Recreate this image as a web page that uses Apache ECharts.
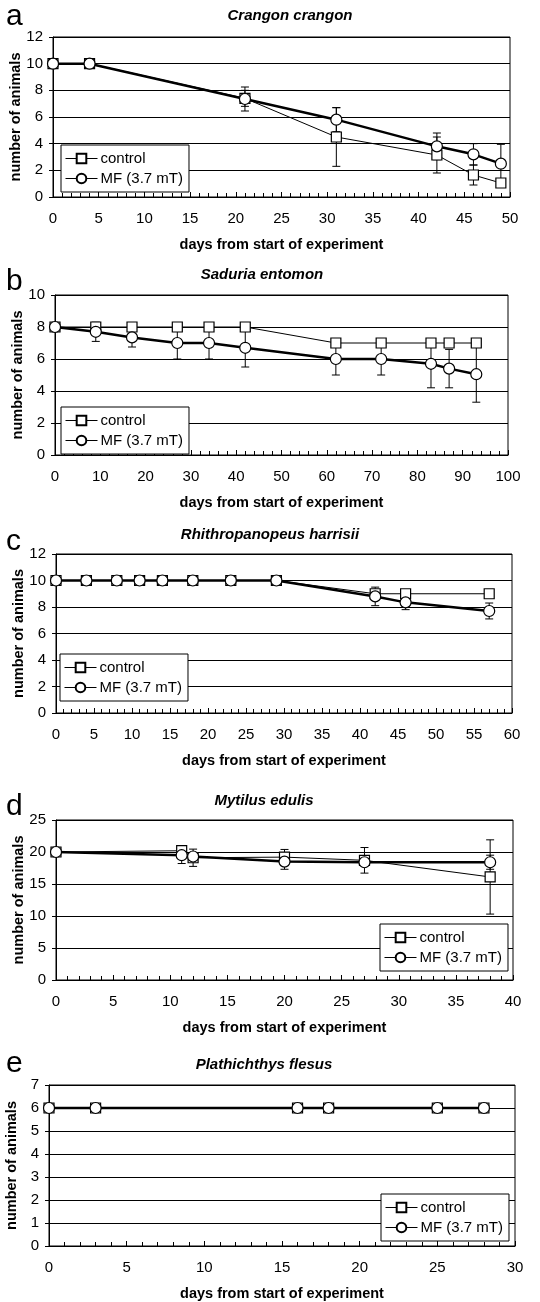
<!DOCTYPE html>
<html>
<head>
<meta charset="utf-8">
<script src="https://cdn.jsdelivr.net/npm/echarts@6/dist/echarts.min.js"></script>
<style>
  html, body { margin: 0; background: #fff; }
  #chart { width: 540px; height: 1302px; }
</style>
</head>
<body>
<div id="chart"></div>
<script>
// a - Crangon crangon
const crangonDays = [0, 4, 21, 31, 42, 46, 49]
const crangonControl = [10, 10, 7.4, 4.5, 3.15, 1.65, 1.05]
const crangonControlErr = [0, 0, 0.6, 2.2, 1.35, 0.75, 0]
const crangonMF = [10, 10, 7.35, 5.8, 3.8, 3.2, 2.5]
const crangonMFErr = [0, 0, 0.9, 0.9, 1.0, 0.8, 1.45]

// b - Saduria entomon
const saduriaDays = [0, 9, 17, 27, 34, 42, 62, 72, 83, 87, 93]
const saduriaControl = [8, 8, 8, 8, 8, 8, 7, 7, 7, 7, 7]
const saduriaControlErr = [0, 0, 0, 0, 0, 0, 0, 0, 0, 0, 0]
const saduriaMF = [8, 7.7, 7.35, 7.0, 7.0, 6.7, 6.0, 6.0, 5.7, 5.4, 5.05]
const saduriaMFErr = [0, 0.6, 0.6, 1.0, 1.0, 1.2, 1.0, 1.0, 1.5, 1.2, 1.75]

// c - Rhithropanopeus harrisii
const rhithroDays = [0, 4, 8, 11, 14, 18, 23, 29, 42, 46, 57]
const rhithroControl = [10, 10, 10, 10, 10, 10, 10, 10, 9, 9, 9]
const rhithroControlErr = [0, 0, 0, 0, 0, 0, 0, 0, 0, 0, 0]
const rhithroMF = [10, 10, 10, 10, 10, 10, 10, 10, 8.8, 8.35, 7.7]
const rhithroMFErr = [0, 0, 0, 0, 0, 0, 0, 0, 0.7, 0.55, 0.6]

// d - Mytilus edulis
const mytilusDays = [0, 11, 12, 20, 27, 38]
const mytilusControl = [20, 20.2, 19.1, 19.2, 18.7, 16.1]
const mytilusControlErr = [0, 0, 1.35, 1.2, 2.0, 5.8]
const mytilusMF = [20, 19.5, 19.3, 18.5, 18.4, 18.4]
const mytilusMFErr = [0, 1.3, 0, 1.2, 0, 1.1]

// e - Plathichthys flesus
const flesusDays = [0, 3, 16, 18, 25, 28]
const flesusControl = [6, 6, 6, 6, 6, 6]
const flesusControlErr = [0, 0, 0, 0, 0, 0]
const flesusMF = [6, 6, 6, 6, 6, 6]
const flesusMFErr = [0, 0, 0, 0, 0, 0]

const seriesNames = ['control', 'MF (3.7 mT)']
const xName = 'days from start of experiment'
const yName = 'number of animals'

const panels = [
  { letter: 'a', species: 'Crangon crangon', days: crangonDays,
    control: crangonControl, controlErr: crangonControlErr, mf: crangonMF, mfErr: crangonMFErr,
    xMax: 50, xStep: 5, yMax: 12, yStep: 2,
    grid: { left: 53, top: 37, width: 457, height: 160 },
    legend: { left: 61, top: 145 }, titleX: 290, titleY: 8, letterY: 2 },
  { letter: 'b', species: 'Saduria entomon', days: saduriaDays,
    control: saduriaControl, controlErr: saduriaControlErr, mf: saduriaMF, mfErr: saduriaMFErr,
    xMax: 100, xStep: 10, yMax: 10, yStep: 2,
    grid: { left: 55, top: 295, width: 453, height: 160 },
    legend: { left: 61, top: 407 }, titleX: 262, titleY: 267, letterY: 267 },
  { letter: 'c', species: 'Rhithropanopeus harrisii', days: rhithroDays,
    control: rhithroControl, controlErr: rhithroControlErr, mf: rhithroMF, mfErr: rhithroMFErr,
    xMax: 60, xStep: 5, yMax: 12, yStep: 2,
    grid: { left: 56, top: 554, width: 456, height: 159 },
    legend: { left: 60, top: 654 }, titleX: 270, titleY: 527, letterY: 527 },
  { letter: 'd', species: 'Mytilus edulis', days: mytilusDays,
    control: mytilusControl, controlErr: mytilusControlErr, mf: mytilusMF, mfErr: mytilusMFErr,
    xMax: 40, xStep: 5, yMax: 25, yStep: 5,
    grid: { left: 56, top: 820, width: 457, height: 160 },
    legend: { left: 380, top: 924 }, titleX: 264, titleY: 793, letterY: 792 },
  { letter: 'e', species: 'Plathichthys flesus', days: flesusDays,
    control: flesusControl, controlErr: flesusControlErr, mf: flesusMF, mfErr: flesusMFErr,
    xMax: 30, xStep: 5, yMax: 7, yStep: 1,
    grid: { left: 49, top: 1085, width: 466, height: 161 },
    legend: { left: 381, top: 1194 }, titleX: 264, titleY: 1057, letterY: 1049 }
]

const font = 'Liberation Sans, Arial, sans-serif'

function errorBars (idx, days, vals, errs) {
  return {
    type: 'custom',
    xAxisIndex: idx,
    yAxisIndex: idx,
    silent: true,
    z: 1,
    encode: { x: 0, y: [1, 2] },
    data: days.map((d, k) => [d, vals[k] - errs[k], vals[k] + errs[k]]).filter((r, k) => errs[k] > 0),
    renderItem: (params, api) => {
      const top = api.coord([api.value(0), api.value(2)])
      const bot = api.coord([api.value(0), api.value(1)])
      const w = 4
      const st = { stroke: '#000', lineWidth: 1 }
      return {
        type: 'group',
        children: [
          { type: 'line', shape: { x1: top[0], y1: top[1], x2: bot[0], y2: bot[1] }, style: st },
          { type: 'line', shape: { x1: top[0] - w, y1: top[1], x2: top[0] + w, y2: top[1] }, style: st },
          { type: 'line', shape: { x1: bot[0] - w, y1: bot[1], x2: bot[0] + w, y2: bot[1] }, style: st }
        ]
      }
    }
  }
}

const option = {
  animation: false,
  backgroundColor: '#fff',
  textStyle: { fontFamily: font },
  title: [], grid: [], xAxis: [], yAxis: [], legend: [], series: []
}

panels.forEach((p, i) => {
  option.title.push({
    text: p.species, left: p.titleX, top: p.titleY, textAlign: 'center', padding: 0,
    textStyle: { fontSize: 15, fontWeight: 'bold', fontStyle: 'italic', color: '#000', fontFamily: font }
  })
  option.title.push({
    text: p.letter, left: 6, top: p.letterY, padding: 0,
    textStyle: { fontSize: 30, fontWeight: 'normal', color: '#000', fontFamily: font }
  })
  option.grid.push(Object.assign({
    show: true, borderColor: '#000', borderWidth: 1, backgroundColor: '#fff',
    containLabel: false, outerBoundsMode: 'none'
  }, p.grid))
  option.xAxis.push({
    type: 'value', gridIndex: i, min: 0, max: p.xMax, interval: p.xStep,
    name: xName, nameLocation: 'middle', nameGap: 40, nameMoveOverlap: false,
    nameTextStyle: { fontSize: 14.5, fontWeight: 'bold', color: '#000', fontFamily: font },
    axisLine: { show: true, onZero: false, lineStyle: { color: '#000', width: 1 } },
    axisTick: { show: true, inside: true, length: 5, lineStyle: { color: '#000' } },
    minorTick: { show: true, splitNumber: 5, length: 4, lineStyle: { color: '#000' } },
    axisLabel: { fontSize: 15, color: '#000', margin: 14, fontFamily: font },
    splitLine: { show: false }
  })
  option.yAxis.push({
    type: 'value', gridIndex: i, min: 0, max: p.yMax, interval: p.yStep,
    name: yName, nameLocation: 'middle', nameGap: 30, nameRotate: 90, nameMoveOverlap: false,
    nameTextStyle: { fontSize: 14.5, fontWeight: 'bold', color: '#000', fontFamily: font },
    axisLine: { show: true, onZero: false, lineStyle: { color: '#000', width: 1 } },
    axisTick: { show: true, inside: false, length: 4, lineStyle: { color: '#000' } },
    axisLabel: { fontSize: 15, color: '#000', margin: 10, fontFamily: font },
    splitLine: { show: true, lineStyle: { color: '#000', width: 1 } }
  })
  option.legend.push({
    orient: 'vertical', left: p.legend.left, top: p.legend.top,
    data: seriesNames, selectedMode: false,
    backgroundColor: '#fff', borderColor: '#000', borderWidth: 1,
    padding: [6, 6, 6, 4], itemGap: 5, itemWidth: 32, itemHeight: 12,
    lineStyle: { width: 1, color: '#000' },
    textStyle: { fontSize: 15, color: '#000', fontFamily: font, padding: [0, 0, 0, -2] },
    z: 20
  })
  option.series.push(errorBars(i, p.days, p.control, p.controlErr))
  option.series.push(errorBars(i, p.days, p.mf, p.mfErr))
  option.series.push({
    name: seriesNames[0], type: 'line', xAxisIndex: i, yAxisIndex: i, z: 3,
    data: p.days.map((d, k) => [d, p.control[k]]),
    symbol: 'rect', symbolSize: 10,
    lineStyle: { color: '#000', width: 1 },
    itemStyle: { color: '#fff', borderColor: '#000', borderWidth: 1.2 }
  })
  option.series.push({
    name: seriesNames[1], type: 'line', xAxisIndex: i, yAxisIndex: i, z: 4,
    data: p.days.map((d, k) => [d, p.mf[k]]),
    symbol: 'circle', symbolSize: 11,
    lineStyle: { color: '#000', width: 2.5 },
    itemStyle: { color: '#fff', borderColor: '#000', borderWidth: 1.2 }
  })
})

const chart = echarts.init(document.getElementById('chart'))
chart.setOption(option)
</script>
</body>
</html>
